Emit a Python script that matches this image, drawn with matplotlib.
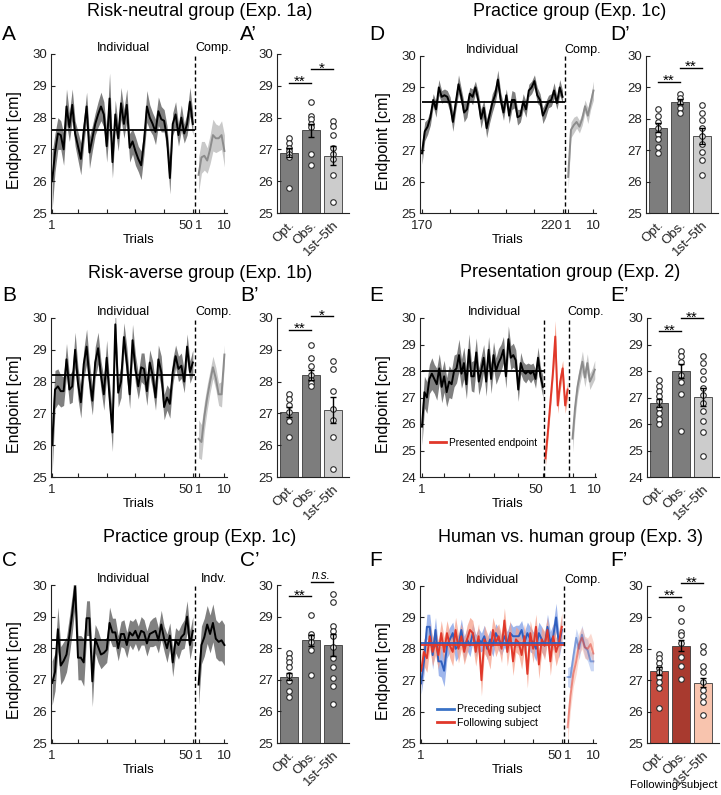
import matplotlib
matplotlib.use("Agg")
import matplotlib.pyplot as plt
from matplotlib.lines import Line2D
import numpy as np

plt.rcParams["font.family"] = ["Liberation Sans", "DejaVu Sans"]

# ---------------- data ----------------
# A: risk-neutral (Exp. 1a)
A_ind = [26.0, 26.9, 27.5, 27.45, 27.0, 28.35, 27.7, 28.4, 27.5, 27.1,
         26.7, 27.55, 28.35, 26.9, 27.35, 27.8, 28.1, 28.35, 28.1, 27.1,
         28.6, 26.6, 28.1, 27.35, 28.45, 27.8, 28.4, 27.05, 27.25, 26.95,
         26.7, 26.5, 27.25, 28.35, 28.0, 27.8, 27.55, 28.2, 27.95, 27.9,
         27.35, 26.1, 27.8, 28.1, 27.45, 28.0, 27.5, 27.8, 28.5, 27.8]
A_ind_se = [0.9, 0.6, 0.5, 0.45, 0.5, 0.55, 0.45, 0.5, 0.4, 0.45,
            0.5, 0.4, 0.45, 0.5, 0.4, 0.35, 0.4, 0.45, 0.4, 0.5,
            0.8, 0.5, 0.45, 0.4, 0.5, 0.45, 0.5, 0.45, 0.4, 0.45,
            0.4, 0.45, 0.4, 0.5, 0.4, 0.35, 0.4, 0.45, 0.4, 0.35,
            0.4, 0.5, 0.35, 0.4, 0.35, 0.4, 0.3, 0.35, 0.45, 0.35]
A_comp = [26.2, 26.75, 26.8, 26.65, 27.0, 27.45, 27.35, 27.35, 27.45, 26.95]
A_comp_se = [0.55, 0.5, 0.45, 0.4, 0.45, 0.5, 0.45, 0.4, 0.45, 0.5]
A_mean = 27.6

# B: risk-averse (Exp. 1b)
B_ind = [26.0, 27.75, 27.85, 27.7, 27.7, 28.7, 27.75, 27.85, 29.0, 27.95,
         27.35, 28.55, 29.1, 28.1, 27.4, 28.6, 29.05, 28.2, 27.6, 28.75,
         27.5, 26.4, 29.8, 27.65, 28.0, 29.4, 28.6, 27.6, 29.3, 28.4,
         27.85, 28.45, 28.4, 27.7, 28.6, 28.2, 27.5, 28.7, 28.3, 27.2,
         27.5, 27.3, 28.3, 28.8, 28.4, 28.5, 28.0, 29.1, 28.3, 28.6]
B_ind_se = [0.9, 0.6, 0.55, 0.5, 0.45, 0.5, 0.45, 0.5, 0.55, 0.5,
            0.5, 0.45, 0.55, 0.5, 0.45, 0.5, 0.5, 0.45, 0.5, 0.55,
            0.45, 0.6, 0.5, 0.45, 0.5, 0.45, 0.5, 0.45, 0.5, 0.45,
            0.4, 0.45, 0.5, 0.45, 0.4, 0.45, 0.4, 0.45, 0.5, 0.4,
            0.4, 0.45, 0.4, 0.35, 0.4, 0.4, 0.35, 0.4, 0.35, 0.4]
B_comp = [26.2, 26.1, 26.9, 27.5, 28.0, 28.45, 28.1, 27.6, 27.6, 28.85]
B_comp_se = [0.6, 0.55, 0.45, 0.4, 0.35, 0.35, 0.35, 0.35, 0.4, 0.3]
B_mean = 28.2

# C: practice group, trials 1-50 (Exp. 1c)
C_ind = [26.9, 27.25, 28.6, 27.45, 27.6, 27.8, 28.4, 29.1, 29.95, 27.7,
         27.7, 27.55, 28.95, 28.95, 26.95, 28.3, 28.05, 27.8, 27.85, 27.95,
         28.8, 28.5, 28.5, 28.0, 28.45, 28.45, 28.1, 28.5, 28.4, 28.55,
         28.3, 28.55, 28.5, 28.15, 28.45, 28.5, 28.55, 28.25, 28.75, 28.3,
         28.0, 28.4, 27.55, 28.25, 28.1, 28.35, 28.45, 29.0, 28.1, 28.55]
C_ind_se = [0.7, 0.6, 0.7, 0.6, 0.6, 0.55, 0.6, 0.6, 0.6, 0.7,
            0.7, 0.75, 0.55, 0.55, 0.8, 0.45, 0.5, 0.45, 0.4, 0.4,
            0.5, 0.45, 0.45, 0.4, 0.4, 0.45, 0.4, 0.4, 0.45, 0.4,
            0.4, 0.45, 0.4, 0.4, 0.4, 0.45, 0.45, 0.4, 0.45, 0.4,
            0.45, 0.4, 0.45, 0.4, 0.45, 0.4, 0.45, 0.5, 0.45, 0.45]
C_comp = [26.85, 28.1, 28.35, 28.75, 28.45, 28.8, 28.3, 28.2, 28.25, 28.1]
C_comp_se = [0.65, 0.6, 0.6, 0.6, 0.6, 0.6, 0.6, 0.6, 0.65, 0.65]
C_mean = 28.25

# D: practice group, trials 170-220 (Exp. 1c)
D_trials = list(range(170, 221))
D_ind = [26.9, 27.6, 27.75, 28.05, 28.6, 28.3, 29.0, 28.7, 28.75, 28.7,
         28.45, 27.9, 28.5, 29.1, 28.7, 28.2, 28.3, 28.8, 28.7, 29.0,
         28.6, 28.0, 28.35, 27.7, 28.1, 28.5, 28.75, 29.25, 28.6, 28.2,
         28.75, 28.1, 28.6, 28.6, 28.05, 28.1, 28.55, 28.3, 28.9, 29.0,
         29.2, 28.75, 28.6, 28.1, 28.3, 28.55, 28.6, 28.9, 28.5, 29.0,
         28.7]
D_ind_se = [0.35, 0.3, 0.25, 0.25, 0.2, 0.25, 0.25, 0.2, 0.2, 0.2,
            0.25, 0.3, 0.25, 0.3, 0.25, 0.3, 0.25, 0.2, 0.25, 0.2,
            0.25, 0.3, 0.25, 0.3, 0.25, 0.3, 0.25, 0.3, 0.25, 0.25,
            0.2, 0.25, 0.3, 0.25, 0.25, 0.2, 0.25, 0.25, 0.2, 0.2,
            0.2, 0.25, 0.2, 0.25, 0.25, 0.2, 0.2, 0.25, 0.2, 0.25,
            0.2]
D_comp = [26.15, 27.65, 27.8, 27.9, 27.75, 28.0, 28.4, 28.1, 28.5, 28.9]
D_comp_se = [0.4, 0.25, 0.25, 0.2, 0.2, 0.2, 0.2, 0.25, 0.2, 0.3]
D_mean = 28.53

# E: presentation group (Exp. 2)
E_ind = [25.9, 27.2, 27.0, 27.7, 27.9, 27.7, 27.5, 28.1, 27.4, 27.8,
         27.2, 27.6, 27.5, 28.0, 28.1, 28.6, 27.9, 28.3, 27.5, 28.8,
         27.8, 27.8, 28.7, 27.6, 28.0, 28.5, 27.6, 28.8, 27.7, 28.6,
         28.0, 28.3, 28.5, 28.8, 27.8, 29.2, 28.5, 28.6, 28.4, 27.3,
         28.3, 28.0, 27.9, 28.0, 27.9, 28.0, 27.7, 28.5, 27.8, 27.4]
E_ind_se = [0.7, 0.6, 0.6, 0.55, 0.6, 0.55, 0.6, 0.55, 0.6, 0.6,
            0.55, 0.6, 0.55, 0.6, 0.55, 0.6, 0.55, 0.6, 0.55, 0.6,
            0.55, 0.6, 0.55, 0.5, 0.55, 0.5, 0.55, 0.5, 0.55, 0.5,
            0.5, 0.55, 0.5, 0.5, 0.45, 0.5, 0.45, 0.45, 0.4, 0.45,
            0.4, 0.35, 0.35, 0.3, 0.35, 0.3, 0.35, 0.4, 0.35, 0.4]
E_pres = [24.7, 25.7, 26.8, 27.9, 29.3, 26.7, 27.6, 28.1, 26.7, 27.3]
E_pres_se = [0.3, 0.3, 0.3, 0.3, 0.6, 0.3, 0.3, 0.3, 0.3, 0.3]
E_comp = [25.45, 26.6, 27.4, 27.9, 28.35, 27.75, 28.3, 27.6, 27.8, 28.05]
E_comp_se = [0.5, 0.4, 0.35, 0.35, 0.4, 0.35, 0.35, 0.3, 0.3, 0.35]
E_mean = 28.0

# F: human vs. human (Exp. 3)
F_pre = [26.9, 27.6, 28.7, 28.7, 27.8, 28.6, 27.6, 27.6, 27.3, 28.1,
         28.3, 28.5, 28.0, 28.1, 28.6, 28.0, 28.3, 28.1, 28.5, 28.1,
         28.3, 28.2, 28.4, 28.0, 28.3, 28.1, 28.5, 28.3, 28.1, 28.4,
         28.2, 28.5, 28.4, 28.4, 28.4, 28.6, 28.2, 28.5, 28.3, 28.2,
         28.0, 28.5, 28.3, 28.1, 28.7, 28.2, 28.4, 29.0, 28.1, 28.6]
F_pre_se = [0.35, 0.4, 0.4, 0.4, 0.45, 0.4, 0.45, 0.5, 0.5, 0.4,
            0.4, 0.35, 0.4, 0.35, 0.35, 0.4, 0.35, 0.35, 0.3, 0.35,
            0.35, 0.3, 0.35, 0.35, 0.3, 0.35, 0.3, 0.35, 0.3, 0.35,
            0.35, 0.35, 0.3, 0.35, 0.35, 0.3, 0.35, 0.35, 0.4, 0.35,
            0.4, 0.35, 0.4, 0.35, 0.4, 0.35, 0.4, 0.45, 0.4, 0.4]
F_fol = [27.3, 27.9, 27.7, 28.4, 27.9, 28.2, 27.8, 28.5, 27.9, 28.5,
         28.1, 27.9, 28.6, 28.0, 28.4, 27.9, 28.3, 28.6, 28.5, 27.9,
         28.4, 27.0, 28.3, 28.1, 27.8, 28.6, 28.2, 28.4, 28.0, 28.9,
         27.9, 28.5, 27.6, 28.3, 28.2, 27.8, 28.4, 27.2, 28.5, 28.0,
         28.7, 27.5, 28.3, 28.1, 28.6, 27.6, 28.4, 27.9, 28.2, 28.7]
F_fol_se = [0.5, 0.45, 0.45, 0.4, 0.45, 0.4, 0.45, 0.4, 0.45, 0.4,
            0.4, 0.45, 0.4, 0.45, 0.4, 0.4, 0.45, 0.4, 0.4, 0.45,
            0.4, 0.5, 0.45, 0.4, 0.45, 0.4, 0.45, 0.4, 0.45, 0.4,
            0.45, 0.4, 0.45, 0.4, 0.4, 0.45, 0.4, 0.45, 0.4, 0.45,
            0.4, 0.45, 0.4, 0.45, 0.4, 0.45, 0.4, 0.45, 0.4, 0.45]
F_pre_comp = [27.1, 27.1, 27.75, 28.35, 28.0, 28.45, 28.05, 27.95, 27.6, 27.6]
F_pre_comp_se = [0.3, 0.35, 0.3, 0.3, 0.35, 0.3, 0.3, 0.35, 0.3, 0.3]
F_fol_comp = [25.5, 26.5, 27.2, 27.6, 28.15, 28.35, 28.05, 28.0, 28.15, 27.85]
F_fol_comp_se = [0.5, 0.45, 0.4, 0.4, 0.35, 0.35, 0.35, 0.35, 0.35, 0.35]
F_pre_mean = 28.2
F_fol_mean = 28.12

# bar panels: Opt., Obs., 1st-5th
bar_labels = ["Opt.", "Obs.", "1st\u20135th"]
Ap_means, Ap_se = [26.9, 27.6, 26.8], [0.15, 0.2, 0.3]
Ap_pts = [[27.35, 27.2, 27.05, 26.95, 26.85, 26.75, 25.8],
          [28.5, 28.05, 27.95, 27.8, 27.7, 26.85, 26.5],
          [27.9, 27.75, 27.45, 27.05, 26.85, 26.7, 26.2, 25.35]]
Bp_means, Bp_se = [27.05, 28.2, 27.1], [0.15, 0.15, 0.4]
Bp_pts = [[27.6, 27.45, 27.25, 27.05, 26.75, 26.25],
          [29.15, 28.75, 28.5, 28.2, 28.05, 27.95, 27.85],
          [28.65, 28.4, 27.7, 27.15, 26.8, 26.25, 25.25]]
Cp_means, Cp_se = [27.1, 28.25, 28.1], [0.12, 0.18, 0.35]
Cp_pts = [[27.85, 27.7, 27.55, 27.4, 27.15, 26.95, 26.65, 26.45],
          [29.05, 28.45, 28.35, 28.2, 27.95, 27.15],
          [29.7, 29.45, 28.7, 28.55, 28.4, 28.05, 27.7, 27.4, 27.05, 26.8, 26.25]]
Dp_means, Dp_se = [27.72, 28.55, 27.45], [0.15, 0.07, 0.25]
Dp_pts = [[28.3, 28.1, 27.9, 27.7, 27.5, 27.35, 27.1, 26.9],
          [28.8, 28.65, 28.5, 28.35, 28.2],
          [28.45, 28.2, 27.95, 27.7, 27.45, 27.2, 26.95, 26.7, 26.2]]
Ep_means, Ep_se = [26.8, 28.0, 27.02], [0.15, 0.25, 0.35]
Ep_pts = [[27.65, 27.45, 27.25, 27.05, 26.85, 26.6, 26.4, 26.2, 26.0],
          [28.75, 28.55, 28.35, 27.85, 27.6, 27.15, 25.75],
          [28.55, 28.3, 28.0, 27.7, 27.35, 27.1, 26.8, 26.5, 26.1, 25.7, 24.8]]
Fp_means, Fp_se = [27.3, 28.1, 26.92], [0.13, 0.17, 0.15]
Fp_pts = [[27.85, 27.7, 27.55, 27.4, 27.25, 27.1, 26.95, 26.75, 26.1],
          [29.3, 28.9, 28.55, 28.45, 28.2, 27.75, 27.45, 27.05],
          [28.1, 27.9, 27.45, 27.25, 26.95, 26.7, 26.5, 26.3, 25.9]]

# ---------------- style ----------------
W, H = 721, 795
AXC = "#222222"
GRAY_BAND = "#808080"
GRAY_LIGHT = "#c9c9c9"
GRAY_LINE = "#8c8c8c"
BAR_DARK = "#7d7d7d"
BAR_LIGHT = "#cccccc"
RED = "#e0382a"
RED_BAND = "#f6a08a"
BLUE = "#2f5fbf"
BLUE_BAND = "#7f9ee6"

fig = plt.figure(figsize=(W / 100, H / 100), dpi=100)


def box(l, t, r, b):
    return [l / W, 1 - b / H, (r - l) / W, (b - t) / H]


def base_axes(rect, ymin, ymax):
    ax = fig.add_axes(box(*rect))
    for s in ["top", "right"]:
        ax.spines[s].set_visible(False)
    for s in ["left", "bottom"]:
        ax.spines[s].set_color(AXC)
        ax.spines[s].set_linewidth(0.8)
    ax.set_ylim(ymin, ymax)
    ax.set_yticks(range(ymin, ymax + 1))
    ax.tick_params(direction="in", length=3, width=0.8, labelsize=9.5,
                   colors=AXC)
    ax.tick_params(axis="y", pad=3)
    ax.tick_params(axis="x", pad=5)
    return ax


def band(ax, x, m, s, lc, bc, alpha=1.0, lalpha=1.0, lw=1.4):
    m, s = np.asarray(m), np.asarray(s)
    ax.fill_between(x, m - s, m + s, color=bc, lw=0, alpha=alpha)
    ax.plot(x, m, color=lc, lw=lw, alpha=lalpha)


def ts_axes(rect, ymin, ymax, xlim, ticks, labels, x_dash, ind_mid, comp_mid,
            comp_text="Comp."):
    ax = base_axes(rect, ymin, ymax)
    ax.set_xlim(*xlim)
    ax.set_xticks(ticks, labels)
    ax.get_xticklabels()[5].set_horizontalalignment("right")
    ax.axvline(x_dash, color="black", ls=(0, (3, 2)), lw=1, zorder=5)
    ax.set_ylabel("Endpoint [cm]", fontsize=11.5)
    ax.yaxis.set_label_coords(-0.165, 0.46)
    ax.set_xlabel("Trials", fontsize=9.5)
    ax.xaxis.set_label_coords(0.5, -0.135)
    ax.text(ind_mid, 1.0, "Individual", transform=ax.get_xaxis_transform(),
            ha="center", va="bottom", fontsize=9)
    ax.text(comp_mid, 1.0, comp_text, transform=ax.get_xaxis_transform(),
            ha="center", va="bottom", fontsize=9)
    return ax


def bar_axes(rect, ymin, ymax, means, ses, pts, colors, sigs):
    ax = base_axes(rect, ymin, ymax)
    xs = np.arange(1, 4)
    ax.bar(xs, np.asarray(means) - ymin, bottom=ymin, width=0.82,
           color=colors, edgecolor="#3a3a3a", lw=0.6, zorder=1)
    for x, p in zip(xs, pts):
        ax.scatter(np.full(len(p), x), p, s=16, facecolor="white",
                   edgecolor="#2a2a2a", lw=0.8, zorder=2)
    ax.errorbar(xs, means, yerr=ses, fmt="none", ecolor="black",
                elinewidth=1, capsize=2.5, capthick=1, zorder=3)
    ax.set_xlim(0.47, 3.74)
    ax.set_xticks(xs, bar_labels, rotation=45, ha="right",
                  rotation_mode="anchor")
    ax.tick_params(axis="x", length=0, pad=4)
    for x1, x2, y, txt in sigs:
        ax.plot([x1, x2], [y, y], color="black", lw=1, clip_on=False)
        if txt == "n.s.":
            ax.annotate(txt, ((x1 + x2) / 2, y), xytext=(0, 2.5),
                        textcoords="offset points", ha="center",
                        va="baseline", fontsize=8.5, style="italic",
                        annotation_clip=False)
        else:
            ax.annotate(txt, ((x1 + x2) / 2, y), xytext=(0, -2.5),
                        textcoords="offset points", ha="center",
                        va="baseline", fontsize=11, annotation_clip=False)
    return ax


def letter(x, y, s):
    fig.text(x / W, 1 - y / H, s, fontsize=15, ha="left", va="center")


def title(x, y, s):
    fig.text(x / W, 1 - y / H, s, fontsize=13, ha="center", va="center")


ind_x = np.arange(1, 51)
comp_x = np.arange(52, 62)
std_ticks = [1, 10, 20, 30, 40, 50, 52, 61]
std_labels = ["1", "", "", "", "", "50", "1", "10"]
dark3 = [BAR_DARK, BAR_DARK, BAR_LIGHT]

# ---- A ----
title(200, 11, "Risk-neutral group (Exp. 1a)")
letter(2, 35, "A")
letter(240, 35, "A\u2019")
ax = ts_axes((51, 54, 227, 213), 25, 30, (0.6, 61.9), std_ticks, std_labels,
             50.8, 25.7, 57.3)
band(ax, ind_x, A_ind, A_ind_se, "black", GRAY_BAND)
band(ax, comp_x, A_comp, A_comp_se, GRAY_LINE, GRAY_LIGHT)
ax.hlines(A_mean, ind_x[0], 50.8, color="black", lw=1.3)
bar_axes((277, 54, 349, 213), 25, 30, Ap_means, Ap_se, Ap_pts, dark3,
         [(1, 2, 29.1, "**"), (2, 3, 29.53, "*")])

# ---- B ----
title(200, 274, "Risk-averse group (Exp. 1b)")
letter(2, 296, "B")
letter(240, 296, "B\u2019")
ax = ts_axes((51, 318, 227, 477), 25, 30, (0.6, 61.9), std_ticks, std_labels,
             50.8, 25.7, 57.3)
band(ax, ind_x, B_ind, B_ind_se, "black", GRAY_BAND)
band(ax, comp_x, B_comp, B_comp_se, GRAY_LINE, GRAY_LIGHT)
ax.hlines(B_mean, ind_x[0], 50.8, color="black", lw=1.3)
bar_axes((277, 318, 349, 477), 25, 30, Bp_means, Bp_se, Bp_pts, dark3,
         [(1, 2, 29.63, "**"), (2, 3, 30.05, "*")])

# ---- C ----
title(200, 538, "Practice group (Exp. 1c)")
letter(2, 561, "C")
letter(240, 561, "C\u2019")
ax = ts_axes((51, 585, 227, 743), 25, 30, (0.6, 61.9), std_ticks, std_labels,
             50.8, 25.7, 57.3, comp_text="Indv.")
band(ax, ind_x, C_ind, C_ind_se, "black", GRAY_BAND)
band(ax, comp_x, C_comp, C_comp_se, "black", GRAY_BAND)
ax.hlines(C_mean, ind_x[0], 50.8, color="black", lw=1.3)
bar_axes((277, 585, 349, 743), 25, 30, Cp_means, Cp_se, Cp_pts,
         [BAR_DARK] * 3, [(1, 2, 29.64, "**"), (2, 3, 30.08, "n.s.")])

# ---- D ----
title(570, 12, "Practice group (Exp. 1c)")
letter(369, 35, "D")
letter(610, 35, "D\u2019")
ax = ts_axes((420, 56, 596, 213), 25, 30, (169.3, 231.9),
             [170, 180, 190, 200, 210, 220, 222, 231],
             ["170", "", "", "", "", "220", "1", "10"], 220.9, 195.1, 227.3)
band(ax, D_trials, D_ind, D_ind_se, "black", GRAY_BAND)
band(ax, np.arange(222, 232), D_comp, D_comp_se, GRAY_LINE, GRAY_LIGHT)
ax.hlines(D_mean, D_trials[0], 220.9, color="black", lw=1.3)
bar_axes((646, 56, 718, 213), 25, 30, Dp_means, Dp_se, Dp_pts, dark3,
         [(1, 2, 29.18, "**"), (2, 3, 29.63, "**")])

# ---- E ----
title(570, 273, "Presentation group (Exp. 2)")
letter(369, 296, "E")
letter(610, 296, "E\u2019")
ax = ts_axes((420, 318, 596, 477), 24, 30, (0.2, 71.5),
             [1, 10, 20, 30, 40, 50, 62, 71],
             ["1", "", "", "", "", "50", "1", "10"], 50.5, 30.4, 67.2)
ax.axvline(60.5, color="black", ls=(0, (3, 2)), lw=1, zorder=5)
band(ax, ind_x, E_ind, E_ind_se, "black", GRAY_BAND)
band(ax, np.arange(51, 61), E_pres, E_pres_se, RED, RED_BAND)
band(ax, np.arange(62, 72), E_comp, E_comp_se, GRAY_LINE, GRAY_LIGHT)
ax.hlines(E_mean, ind_x[0], 50.5, color="black", lw=1.3)
ax.legend([Line2D([], [], color=RED, lw=2)], ["Presented endpoint"],
          loc="center left", bbox_to_anchor=(0.055, 0.214), frameon=False,
          fontsize=7.3, handlelength=1.6, handletextpad=0.35, borderpad=0,
          borderaxespad=0)
bar_axes((647, 318, 719, 477), 24, 30, Ep_means, Ep_se, Ep_pts, dark3,
         [(1, 2, 29.5, "**"), (2, 3, 30.0, "**")])

# ---- F ----
title(570, 537, "Human vs. human group (Exp. 3)")
letter(369, 561, "F")
letter(610, 561, "F\u2019")
ax = ts_axes((420, 586, 596, 743), 25, 30, (0.6, 61.9), std_ticks, std_labels,
             50.8, 25.7, 57.3)
band(ax, ind_x, F_pre, F_pre_se, BLUE, BLUE_BAND, alpha=0.75)
band(ax, ind_x, F_fol, F_fol_se, RED, RED_BAND, alpha=0.75)
band(ax, comp_x, F_pre_comp, F_pre_comp_se, BLUE, BLUE_BAND, alpha=0.4,
     lalpha=0.5)
band(ax, comp_x, F_fol_comp, F_fol_comp_se, RED, RED_BAND, alpha=0.4,
     lalpha=0.5)
ax.hlines(F_pre_mean, ind_x[0], 50.8, color=BLUE, lw=1.3)
ax.hlines(F_fol_mean, ind_x[0], 50.8, color=RED, lw=1.3)
ax.legend([Line2D([], [], color="#3a72c6", lw=2),
           Line2D([], [], color=RED, lw=2)],
          ["Preceding subject", "Following subject"],
          loc="center left", bbox_to_anchor=(0.095, 0.17), frameon=False,
          fontsize=7.6, handlelength=1.6, handletextpad=0.35, borderpad=0,
          borderaxespad=0, labelspacing=0.35)
bar_axes((647, 586, 719, 743), 25, 30, Fp_means, Fp_se, Fp_pts,
         ["#c54b3e", "#a83a2f", "#f8c4ae"],
         [(1, 2, 29.66, "**"), (2, 3, 30.1, "**")])
fig.text(674 / W, 1 - 785 / H, "Following subject", fontsize=8.2,
         ha="center", va="center")

fig.savefig("out.png", dpi=100)
